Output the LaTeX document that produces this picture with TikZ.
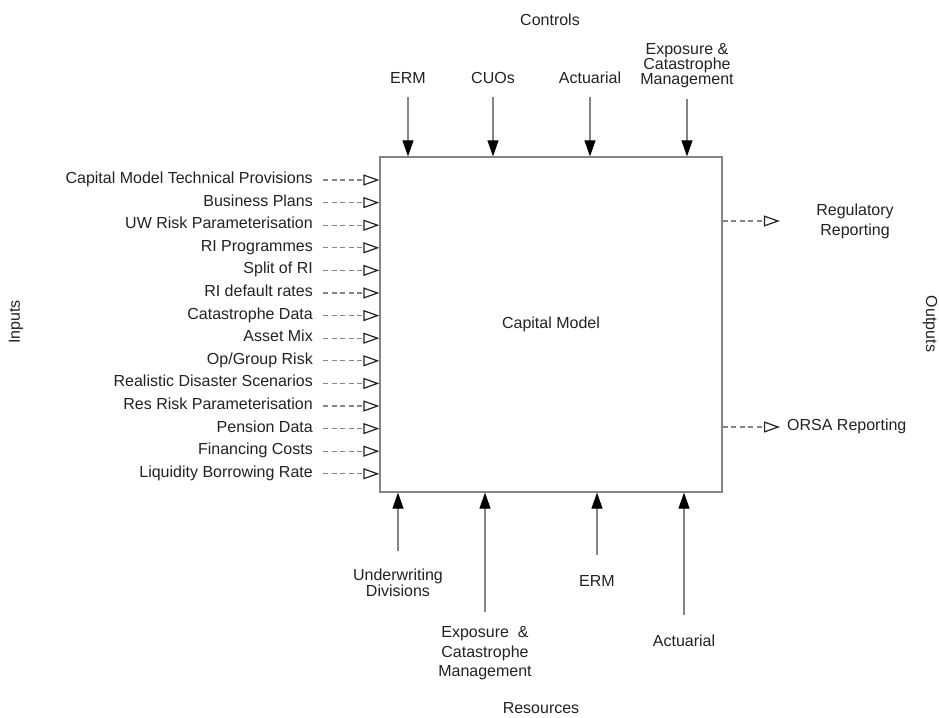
\documentclass[tikz,border=0pt]{standalone}
\usepackage{fontspec}
\setmainfont{Liberation Sans}
\usetikzlibrary{positioning, arrows.meta}

\definecolor{linegray}{HTML}{858585}
\definecolor{inkgray}{HTML}{222222}

\begin{document}
\begin{tikzpicture}[
  x=1pt, y=-1pt,
  font=\fontsize{16}{17}\selectfont,
  every node/.style={text=inkgray},
  model/.style={draw=linegray, line width=1.3pt, minimum width=342pt,
    minimum height=335pt, inner sep=0pt},
  lbl/.style={text height=.95em, text depth=.25em, inner sep=0pt},
  inp/.style={lbl, anchor=east},
  multi/.style={align=center, inner sep=0pt,
    font=\fontsize{16}{#1}\selectfont},
  ctrl/.style={-{Triangle[length=16pt, width=11pt, color=black]},
    line width=1.2pt, draw=linegray},
  flow/.style={-{Triangle[open, length=16pt, width=11pt, color=inkgray]},
    dash pattern=on 5pt off 3.5pt, line width=1.2pt, draw=linegray}
]
\useasboundingbox (0,0) rectangle (939,717);

\node[model] (model) at (551,324.5) {Capital Model};

% side titles
\node (controls) at (550,20) {Controls};
\node (resources) at (541,708.5) {Resources};
\node[rotate=90] (inputs) at (16,322) {Inputs};
\node[rotate=-90] (outputs) at (930,324) {Outputs};

% controls
\node[lbl] (erm) at (408,79.6) {ERM};
\node[lbl] (cuos) at (493,79.6) {CUOs};
\node[lbl] (actuarial) at (590,79.6) {Actuarial};
\node[multi=15] (expcat) at (687,66) {Exposure \&\\Catastrophe\\Management};

\draw[ctrl, shorten <=11pt] (erm) -- (erm |- model.north);
\draw[ctrl, shorten <=11pt] (cuos) -- (cuos |- model.north);
\draw[ctrl, shorten <=11pt] (actuarial) -- (actuarial |- model.north);
\draw[ctrl, shorten <=11pt] (expcat) -- (expcat |- model.north);

% inputs
\node[inp] (cmtp) at (313,180) {Capital Model Technical Provisions};
\node[inp] (bplans) at (313,202.6) {Business Plans};
\node[inp] (uwrisk) at (313,225.2) {UW Risk Parameterisation};
\node[inp] (riprog) at (313,247.8) {RI Programmes};
\node[inp] (splitri) at (313,270.4) {Split of RI};
\node[inp] (ridefault) at (313,293) {RI default rates};
\node[inp] (catdata) at (313,315.6) {Catastrophe Data};
\node[inp] (assetmix) at (313,338.2) {Asset Mix};
\node[inp] (oprisk) at (313,360.8) {Op/Group Risk};
\node[inp] (rds) at (313,383.4) {Realistic Disaster Scenarios};
\node[inp] (resrisk) at (313,406) {Res Risk Parameterisation};
\node[inp] (pension) at (313,428.6) {Pension Data};
\node[inp] (financing) at (313,451.2) {Financing Costs};
\node[inp] (liquidity) at (313,473.8) {Liquidity Borrowing Rate};

\draw[flow, shorten <=10pt] (cmtp) -- (cmtp -| model.west);
\draw[flow, shorten <=10pt] (bplans) -- (bplans -| model.west);
\draw[flow, shorten <=10pt] (uwrisk) -- (uwrisk -| model.west);
\draw[flow, shorten <=10pt] (riprog) -- (riprog -| model.west);
\draw[flow, shorten <=10pt] (splitri) -- (splitri -| model.west);
\draw[flow, shorten <=10pt] (ridefault) -- (ridefault -| model.west);
\draw[flow, shorten <=10pt] (catdata) -- (catdata -| model.west);
\draw[flow, shorten <=10pt] (assetmix) -- (assetmix -| model.west);
\draw[flow, shorten <=10pt] (oprisk) -- (oprisk -| model.west);
\draw[flow, shorten <=10pt] (rds) -- (rds -| model.west);
\draw[flow, shorten <=10pt] (resrisk) -- (resrisk -| model.west);
\draw[flow, shorten <=10pt] (pension) -- (pension -| model.west);
\draw[flow, shorten <=10pt] (financing) -- (financing -| model.west);
\draw[flow, shorten <=10pt] (liquidity) -- (liquidity -| model.west);

% outputs
\node[multi=20] (regrep) at (855,221) {Regulatory\\Reporting};
\node[lbl, anchor=west] (orsa) at (787,427) {ORSA Reporting};

\draw[flow, shorten >=36.3pt] (model.east |- regrep) -- (regrep);
\draw[flow, shorten >=7pt] (model.east |- orsa) -- (orsa);

% resources
\node[multi=16] (uwdiv) at (398,582.5) {Underwriting\\Divisions};
\node[lbl] (ermres) at (597,582.6) {ERM};
\node[multi=19.5] (expcatres) at (485,653.6) {Exposure \ \&\\Catastrophe\\Management};
\node[lbl] (actres) at (684,642.6) {Actuarial};

\draw[ctrl, shorten <=17pt] (uwdiv) -- (uwdiv |- model.south);
\draw[ctrl, shorten <=21pt] (ermres) -- (ermres |- model.south);
\draw[ctrl, shorten <=15pt] (expcatres) -- (expcatres |- model.south);
\draw[ctrl, shorten <=21pt] (actres) -- (actres |- model.south);
\end{tikzpicture}
\end{document}
